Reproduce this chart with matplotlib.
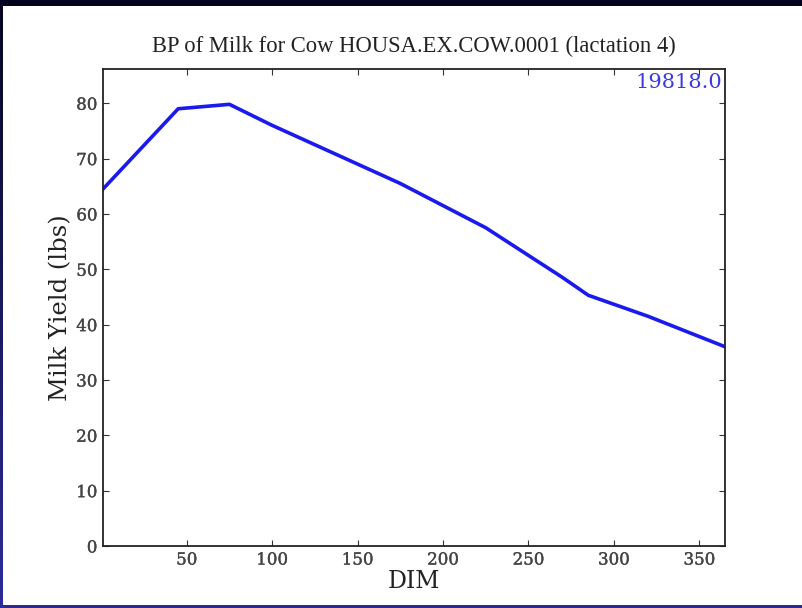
import numpy as np
import matplotlib
matplotlib.use("Agg")
import matplotlib.pyplot as plt
from matplotlib.patches import Rectangle
import matplotlib.patheffects as pe

# Lactation curve: days in milk vs. milk yield
dim = [1, 45, 75, 100, 125, 150, 175, 200, 225, 250, 270, 285, 320, 365]
milk_yield = [64.5, 79.0, 79.8, 76.0, 72.5, 69.0, 65.5, 61.5, 57.5, 52.5, 48.5, 45.3, 41.5, 36.0]
total_yield = "19818.0"
title = "BP of Milk for Cow HOUSA.EX.COW.0001 (lactation 4)"
x_ticks = [50, 100, 150, 200, 250, 300, 350]
y_ticks = [0, 10, 20, 30, 40, 50, 60, 70, 80]

W, H = 802, 608
fig = plt.figure(figsize=(W / 100, H / 100), dpi=100)
fig.patch.set_facecolor("white")

# slide frame: dark top band, gradient left edge, blue bottom line
fig.add_artist(Rectangle((0, 1 - 6 / H), 1, 6 / H, transform=fig.transFigure,
                         facecolor="#03031c", edgecolor="none", zorder=10))
fig.add_artist(Rectangle((0, 0), 1, 3 / H, transform=fig.transFigure,
                         facecolor="#2c2c90", edgecolor="none", zorder=10))
grad = np.linspace(0, 1, 60)
top_c = np.array([0.02, 0.02, 0.12])
bot_c = np.array([0.17, 0.17, 0.60])
for i in range(60):
    c = top_c + (bot_c - top_c) * grad[i]
    y0 = 1 - (i + 1) / 60
    fig.add_artist(Rectangle((0, y0), 3 / W, 1 / 60 + 0.001, transform=fig.transFigure,
                             facecolor=c, edgecolor="none", zorder=10))

left, right, top, bottom = 103, 725, 69, 546
ax = fig.add_axes([left / W, 1 - bottom / H, (right - left) / W, (bottom - top) / H])

ax.plot(dim, milk_yield, color="#1a1aee", linewidth=2.6, solid_joinstyle="round")

ax.set_xlim(1, 365)
ax.set_ylim(0, max(milk_yield) * 1.08)
ax.set_xticks(x_ticks)
ax.set_yticks(y_ticks)

serif = ["DejaVu Serif"]
thicken = [pe.withStroke(linewidth=0.25, foreground="#444444")]
ax.tick_params(direction="in", length=4, width=0.8, top=True, right=True,
               labelsize=12, colors="#333333", pad=4)
for lab in ax.get_xticklabels() + ax.get_yticklabels():
    lab.set_family(serif)
    lab.set_color("#444444")
    lab.set_path_effects(thicken)
for s in ax.spines.values():
    s.set_linewidth(1.3)
    s.set_color("#222222")

ax.set_title(title, fontsize=16.3, family=["Liberation Serif"], color="#222222", pad=12)
ax.set_xlabel("DIM", fontsize=17, family=serif, color="#222222", labelpad=1)
ax.set_ylabel("Milk Yield (lbs)", fontsize=17.5, family=serif, color="#222222", labelpad=3)

ax.text(0.995, 0.992, total_yield, transform=ax.transAxes, ha="right", va="top",
        fontsize=15, family=serif, color="#3a3ae0")

fig.savefig("out.png", dpi=100)
